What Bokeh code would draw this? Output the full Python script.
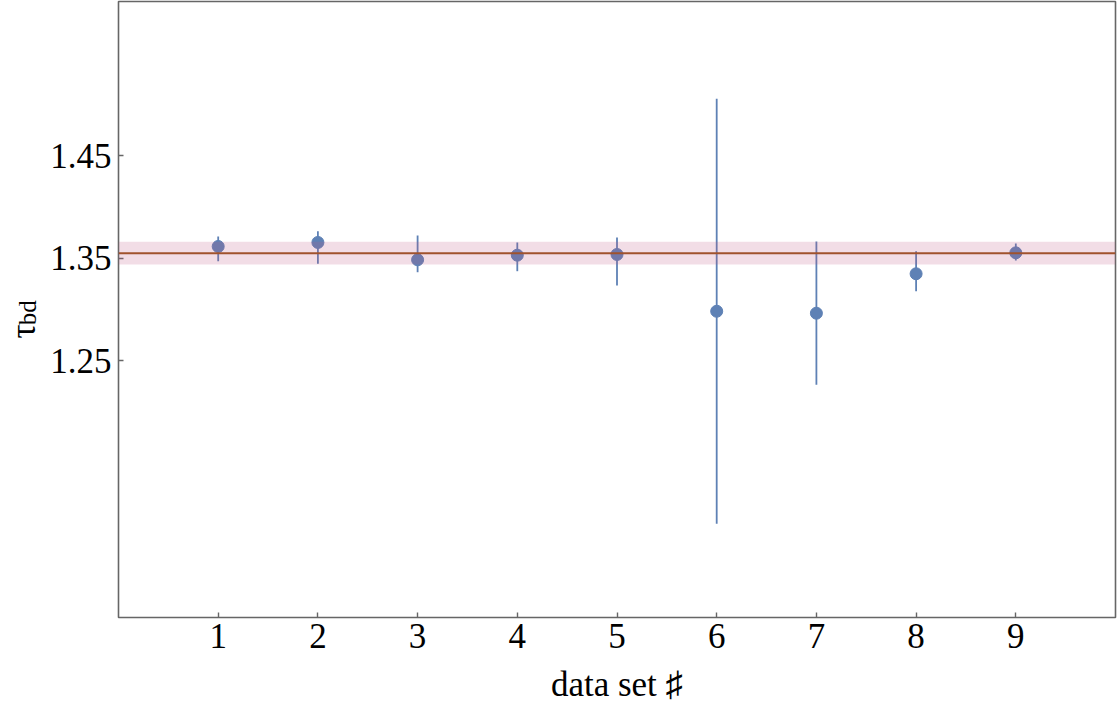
from bokeh.plotting import figure
from bokeh.models import Range1d, FixedTicker, Span, BoxAnnotation, LinearAxis
from bokeh.embed import file_html
from bokeh.resources import INLINE

# data
data_set = [1, 2, 3, 4, 5, 6, 7, 8, 9]
tau_bd = [1.3614, 1.3653, 1.3484, 1.3529, 1.3536, 1.2983, 1.2964, 1.3348, 1.3552]
tau_upper = [1.3711, 1.3763, 1.3720, 1.3653, 1.3701, 1.5052, 1.3662, 1.3568, 1.3643]
tau_lower = [1.3470, 1.3445, 1.3363, 1.3373, 1.3234, 1.0913, 1.2267, 1.3178, 1.3477]
tau_mean = 1.3548
band_low = 1.3438
band_high = 1.3659
x_ticks = [1, 2, 3, 4, 5, 6, 7, 8, 9]
y_ticks = [1.25, 1.35, 1.45]

FONT = "Liberation Serif"
BLUE = "#5e81b5"
FRAME = "#666666"

p = figure(width=1118, height=708, output_backend="svg", toolbar_location=None,
           x_range=Range1d(0.0, 10.0), y_range=Range1d(1.0, 1.6),
           min_border_left=118, min_border_right=3, min_border_top=1,
           min_border_bottom=91)
p.background_fill_color = "white"
p.border_fill_color = "white"
p.outline_line_color = FRAME
p.outline_line_width = 1.6
p.xgrid.visible = False
p.ygrid.visible = False

for ax in (p.xaxis[0], p.yaxis[0]):
    ax.axis_line_color = None
    ax.major_tick_in = 5
    ax.major_tick_out = 0
    ax.major_tick_line_color = FRAME
    ax.major_tick_line_width = 1.4
    ax.minor_tick_line_color = None
    ax.major_label_text_font = FONT
    ax.major_label_text_font_size = "35px"
    ax.major_label_text_color = "black"
    ax.axis_label_text_font = FONT
    ax.axis_label_text_font_style = "normal"
    ax.axis_label_text_color = "black"

xa = p.xaxis[0]
xa.ticker = FixedTicker(ticks=x_ticks)
xa.major_label_standoff = 6
xa.axis_label = "data set \u266f"
xa.axis_label_text_font_size = "35px"
xa.axis_label_standoff = 14

ya = p.yaxis[0]
ya.ticker = FixedTicker(ticks=y_ticks)
ya.major_label_standoff = 7
# subscript part of the y label (closest to the tick labels)
ya.axis_label = "bd\u00a0"
ya.axis_label_text_font_size = "25px"
ya.axis_label_standoff = 6

# main symbol of the y label on an outer, tick-less axis
ya2 = LinearAxis(ticker=FixedTicker(ticks=[]), axis_line_color=None,
                 major_tick_line_color=None, minor_tick_line_color=None,
                 major_label_text_font_size="0px", major_label_standoff=0,
                 major_tick_in=0, major_tick_out=0,
                 axis_label="\u03c4\u00a0\u00a0\u00a0\u00a0\u00a0", axis_label_text_font=FONT,
                 axis_label_text_font_size="35px", axis_label_text_font_style="normal",
                 axis_label_text_color="black", axis_label_standoff=-31)
p.add_layout(ya2, "left")

# error bars and points
p.segment(x0=data_set, y0=tau_lower, x1=data_set, y1=tau_upper,
          line_color=BLUE, line_width=1.8)
p.scatter(data_set, tau_bd, size=12, fill_color=BLUE, line_color=BLUE)

# mean band and line (drawn on top)
p.add_layout(BoxAnnotation(bottom=band_low, top=band_high, fill_color="#be5582",
                           fill_alpha=0.2, line_color=None))
p.add_layout(Span(location=tau_mean, dimension="width", line_color="#a0522d",
                  line_width=2))

open("out.html", "w").write(file_html(p, INLINE))
